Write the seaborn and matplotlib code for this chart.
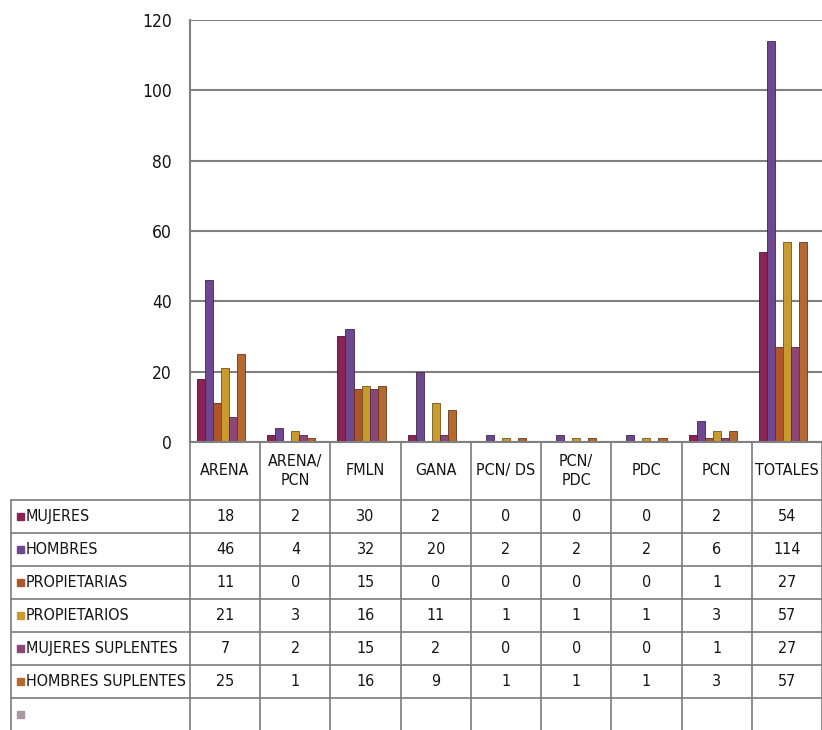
import numpy as np
import pandas as pd
import matplotlib
matplotlib.use('Agg')
import matplotlib.pyplot as plt
import matplotlib.transforms as mtransforms
from matplotlib.patches import Rectangle
from matplotlib.lines import Line2D
import seaborn as sns

# Datos
partidos = ['ARENA', 'ARENA/\nPCN', 'FMLN', 'GANA', 'PCN/ DS', 'PCN/\nPDC', 'PDC', 'PCN', 'TOTALES']
series = ['MUJERES', 'HOMBRES', 'PROPIETARIAS', 'PROPIETARIOS',
          'MUJERES SUPLENTES', 'HOMBRES SUPLENTES', '']
mujeres = [18, 2, 30, 2, 0, 0, 0, 2, 54]
hombres = [46, 4, 32, 20, 2, 2, 2, 6, 114]
propietarias = [11, 0, 15, 0, 0, 0, 0, 1, 27]
propietarios = [21, 3, 16, 11, 1, 1, 1, 3, 57]
mujeres_sup = [7, 2, 15, 2, 0, 0, 0, 1, 27]
hombres_sup = [25, 1, 16, 9, 1, 1, 1, 3, 57]
vacia = [np.nan] * 9  # serie sin datos

colores = ['#8a2456', '#6f4690', '#ae552c', '#c99a2e', '#8c4678', '#b5682f', '#a898a6']

valores = [mujeres, hombres, propietarias, propietarios, mujeres_sup, hombres_sup, vacia]
filas = []
for s, vals in zip(series, valores):
    for p, v in zip(partidos, vals):
        filas.append({'partido': p, 'serie': s, 'valor': v})
df = pd.DataFrame(filas)

W, H = 822, 730
sns.set_style('white')
plt.rcParams['font.family'] = ['DejaVu Sans']
plt.rcParams['font.stretch'] = 'condensed'
fig = plt.figure(figsize=(W / 100, H / 100), dpi=100)

left_px, right_px, top_px, zero_px = 190, 822, 20, 442
ax = fig.add_axes([left_px / W, 1 - zero_px / H, (right_px - left_px) / W, (zero_px - top_px) / H])

sns.barplot(data=df, x='partido', y='valor', hue='serie', order=partidos,
            hue_order=series, palette=colores, saturation=1, errorbar=None,
            legend=False, ax=ax)

for bar in ax.patches:
    fc = np.array(bar.get_facecolor())
    bar.set_edgecolor(tuple(fc[:3] * 0.55) + (1,))
    bar.set_linewidth(0.6)

ax.set_xlim(-0.5, len(partidos) - 0.5)
ax.set_ylim(0, 120)
ax.set_yticks(range(0, 121, 20))
ax.yaxis.grid(True, color='#808080', lw=1.5)
ax.set_axisbelow(True)
ax.set_xlabel('')
ax.set_ylabel('')
ax.set_xticks([])
ax.tick_params(axis='y', length=0, pad=13, labelsize=12.5, labelcolor='#151515')
for s in ['top', 'right']:
    ax.spines[s].set_visible(False)
for s in ['left', 'bottom']:
    ax.spines[s].set_color('#808080')
    ax.spines[s].set_linewidth(1.5)

# Tabla de datos
def fy(py):
    return 1 - py / H

trans = mtransforms.blended_transform_factory(ax.transData, fig.transFigure)
linea = dict(color='#7a7a7a', lw=1.2)
tabla_izq = 11
header_bot = 500
row_h = 33
n_filas = len(series)
bottom_px = header_bot + row_h * n_filas

# líneas horizontales
for i in range(n_filas + 1):
    y = fy(header_bot + i * row_h)
    fig.add_artist(Line2D([tabla_izq / W, 1], [y, y], transform=fig.transFigure, **linea))
# líneas verticales
for j in range(len(partidos) + 1):
    x = j - 0.5
    fig.add_artist(Line2D([x, x], [fy(zero_px), fy(bottom_px)], transform=trans, **linea))
fig.add_artist(Line2D([tabla_izq / W] * 2, [fy(header_bot), fy(bottom_px)],
                      transform=fig.transFigure, **linea))

txt = dict(fontsize=11.5, color='#151515')
# encabezados
for j, p in enumerate(partidos):
    fig.text(j, fy((zero_px + header_bot) / 2), p, transform=trans,
             ha='center', va='center', linespacing=1.35, **txt)

# filas
for i, (s, vals) in enumerate(zip(series, valores)):
    yc = header_bot + (i + 0.5) * row_h
    fig.add_artist(Rectangle((17 / W, fy(yc + 3.5)), 7 / W, 7 / H,
                             transform=fig.transFigure, color=colores[i]))
    fig.text(26 / W, fy(yc), s, ha='left', va='center', **txt)
    for j, v in enumerate(vals):
        if not np.isnan(v):
            fig.text(j, fy(yc), str(int(v)), transform=trans,
                     ha='center', va='center', **txt)

fig.savefig('out.png', dpi=100)
